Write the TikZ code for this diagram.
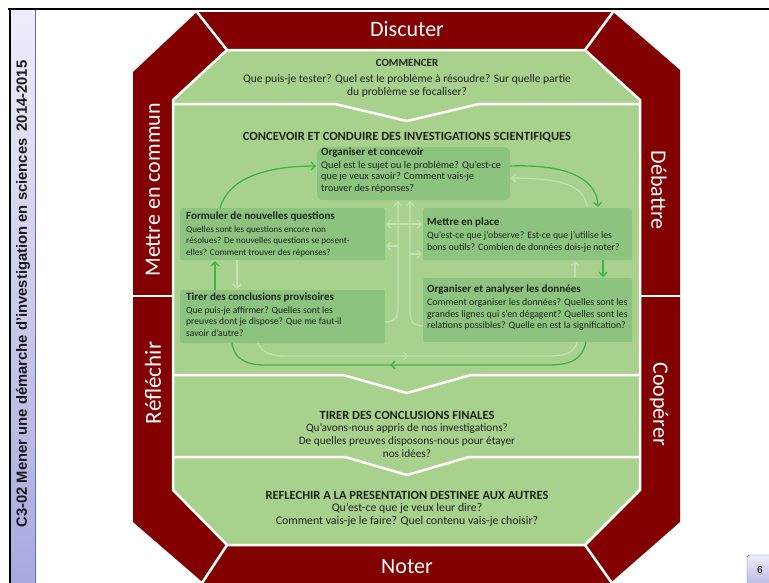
\documentclass[tikz,border=0pt]{standalone}
\usepackage{fontspec}
\setmainfont{Carlito}
\newfontfamily\arialf{Liberation Sans}
\usetikzlibrary{decorations.markings,arrows.meta,shadings}
\definecolor{bandred}{HTML}{820000}
\definecolor{lgreen}{HTML}{A9D18E}
\definecolor{bgreen}{HTML}{8CC37E}
\definecolor{agreen}{HTML}{3BB54A}
\definecolor{fgreen}{HTML}{C3E3AE}
\definecolor{txt}{HTML}{1A2617}
\definecolor{sidetop}{HTML}{EEEEFA}
\definecolor{sidebot}{HTML}{A8A8DE}
\definecolor{sideedge}{HTML}{6A6AB0}
\newcommand\bxttl{\fontsize{11}{12}\selectfont\bfseries}
\begin{document}
\begin{tikzpicture}[x=1pt,y=-1pt,
  box/.style={fill=bgreen, draw=none, inner sep=0, anchor=north west},
  bandlbl/.style={text=white, font=\fontsize{22}{22}\selectfont, inner sep=0},
  head/.style={font=\fontsize{12.5}{13}\selectfont\bfseries, text=txt, inner sep=0, anchor=base},
  body/.style={font=\fontsize{11.5}{13.5}\selectfont, text=txt, align=center, inner sep=0, anchor=north},
  btext/.style={text=txt, align=left, inner sep=0, anchor=north west},
  sepline/.style={draw=white, line width=2.5pt},
  barrow/.style={draw=agreen, line width=1.3pt, -{Straight Barb[length=4pt,width=8pt]}},
  farrow/.style={draw=fgreen, line width=1.3pt, -{Straight Barb[length=4pt,width=8pt]}},
  fdarrow/.style={draw=fgreen, line width=1.3pt, {Straight Barb[length=4pt,width=8pt]}-{Straight Barb[length=4pt,width=8pt]}},
  bmid/.style={draw=agreen, line width=1.3pt, postaction={decorate}, decoration={markings, mark=at position #1 with {\arrow[agreen]{Straight Barb[length=4pt,width=8pt]}}}},
  fmid/.style={draw=fgreen, line width=1.3pt, postaction={decorate}, decoration={markings, mark=at position #1 with {\arrow[fgreen]{Straight Barb[length=4pt,width=8pt]}}}},
]
\useasboundingbox (0,0) rectangle (769,582);
\fill[white] (0,0) rectangle (769,582);

% side bar and frame
\shade[top color=sidetop, bottom color=sidebot] (10,10) rectangle (35,585);
\draw[sideedge, line width=1pt] (35,10) -- (35,585);
\draw[black, line width=1.2pt] (10,10) -- (10,585);
\draw[black, line width=2.5pt] (8,9) -- (772,9);
\node[rotate=90, inner sep=0, text=black!90, font=\arialf\bfseries\fontsize{14.8}{15}\selectfont] (sidetitle) at (23,294) {C3-02 Mener une démarche d’investigation en sciences\hspace{7pt}2014-2015};

% page number box
\shade[top color=sidetop, bottom color=sidebot, rounded corners=3pt, draw=sideedge] (747,555) rectangle (780,595);
\node[inner sep=0, font=\arialf\fontsize{10}{10}\selectfont] (pnum) at (760,570) {6};

% octagon
\fill[bandred] (197,12) -- (613,12) -- (680,70) -- (680,522) -- (600,592) -- (214,592) -- (133,522) -- (133,72) -- cycle;
\filldraw[fill=lgreen, draw=white, line width=2.5pt] (227,50) -- (585,50) -- (640,100) -- (640,490) -- (585,545) -- (227,545) -- (173,490) -- (173,100) -- cycle;
\draw[sepline] (197,12) -- (227,50);
\draw[sepline] (613,12) -- (585,50);
\draw[sepline] (227,545) -- (200,586);
\draw[sepline] (585,545) -- (614,586);
\draw[sepline] (133,296) -- (173,296);
\draw[sepline] (640,296) -- (680,296);
\draw[sepline] (173,104) -- (335,104) -- (407,121) -- (479,104) -- (640,104);
\draw[sepline] (173,375) -- (343,375) -- (407,393) -- (471,375) -- (640,375);
\draw[sepline] (173,457) -- (345,457) -- (407,475) -- (469,457) -- (640,457);

% band labels
\node[bandlbl] (disc) at (407,29) {Discuter};
\node[bandlbl, rotate=90] (mec) at (153,190) {Mettre en commun};
\node[bandlbl, rotate=90, font=\fontsize{23}{23}\selectfont] (refl) at (153,383) {Réfléchir};
\node[bandlbl, rotate=-90] (deb) at (659,190) {Débattre};
\node[bandlbl, rotate=-90] (coop) at (659,404) {Coopérer};
\node[bandlbl] (note) at (407,567) {Noter};

% section texts
\node[head, font=\fontsize{11}{12}\selectfont\bfseries] (comh) at (407,66.5) {COMMENCER};
\node[body] (comb) at (407,74) {Que puis-je tester? Quel est le problème à résoudre? Sur quelle partie\\du problème se focaliser?};
\node[head] (conh) at (407,140.5) {CONCEVOIR ET CONDUIRE DES INVESTIGATIONS SCIENTIFIQUES};
\node[head] (tirh) at (407,419) {TIRER DES CONCLUSIONS FINALES};
\node[body, font=\fontsize{11.3}{13}\selectfont] (tirb) at (407,423.5) {Qu’avons-nous appris de nos investigations?\\De quelles preuves disposons-nous pour étayer\\nos idées?};
\node[head] (refh) at (407,499) {REFLECHIR A LA PRESENTATION DESTINEE AUX AUTRES};
\node[body, font=\fontsize{11.8}{12.5}\selectfont] (refb) at (407,503) {Qu’est-ce que je veux leur dire?\\Comment vais-je le faire? Quel contenu vais-je choisir?};

% boxes
\node[box, rounded corners=6pt, minimum width=193pt, minimum height=53pt] (org) at (317,147) {};
\node[box, rounded corners=2pt, minimum width=205pt, minimum height=52pt] (form) at (180,208) {};
\node[box, rounded corners=2pt, minimum width=205pt, minimum height=53pt] (tir) at (180,290) {};
\node[box, rounded corners=2pt, minimum width=209pt, minimum height=52pt] (mett) at (423,208) {};
\node[box, rounded corners=2pt, minimum width=209pt, minimum height=64pt] (anal) at (423,278) {};

\node[btext, font=\fontsize{10.3}{11.4}\selectfont] (orgt) at (321,148) {{\bxttl Organiser et concevoir}\\[1pt]Quel est le sujet ou le problème? Qu’est-ce\\que je veux savoir? Comment vais-je\\trouver des réponses?};
\node[btext, font=\fontsize{9.1}{11.6}\selectfont] (formt) at (186,212) {{\bxttl Formuler de nouvelles questions}\\[0.5pt]Quelles sont les questions encore non\\résolues? De nouvelles questions se posent-\\elles? Comment trouver des réponses?};
\node[btext, font=\fontsize{9.6}{11.6}\selectfont] (tirt) at (186,293) {{\bxttl Tirer des conclusions provisoires}\\[0.5pt]Que puis-je affirmer? Quelles sont les\\preuves dont je dispose? Que me faut-il\\savoir d’autre?};
\node[btext, font=\fontsize{9.8}{11.8}\selectfont] (mettt) at (427,218) {{\bxttl Mettre en place}\\[0.5pt]Qu’est-ce que j’observe? Est-ce que j’utilise les\\bons outils? Combien de données dois-je noter?};
\node[btext, font=\fontsize{9.9}{11.8}\selectfont] (analt) at (427,285) {{\bxttl Organiser et analyser les données}\\[0.5pt]Comment organiser les données? Quelles sont les\\grandes lignes qui s’en dégagent? Quelles sont les\\relations possibles? Quelle en est la signification?};

% connector end points
\coordinate (a1s) at (220,208);
\coordinate (a1e) at (316,166);
\coordinate (a2s) at (510,166);
\coordinate (a2e) at (598,207);
\coordinate (a3s) at (603,260);
\coordinate (a3e) at (603,277);
\coordinate (a4s) at (586,342);
\coordinate (a4e) at (232,343);
\coordinate (a5s) at (215,290);
\coordinate (a5e) at (215,261);
\coordinate (f1s) at (237,260);
\coordinate (f1e) at (237,289);
\coordinate (f2s) at (258,343);
\coordinate (f2e) at (577,342);
\coordinate (f3as) at (385,322);
\coordinate (f3ae) at (398,201);
\coordinate (f3bs) at (423,326);
\coordinate (f3be) at (410,201);
\coordinate (f4s) at (386,224);
\coordinate (f4e) at (422,224);
\coordinate (f5s) at (398,246);
\coordinate (f5e) at (386,246);
\coordinate (f6s) at (410,254);
\coordinate (f6e) at (422,254);
\coordinate (f7s) at (587,207);
\coordinate (f7e) at (511,178);
\coordinate (f8s) at (575,277);
\coordinate (f8e) at (575,261);

% faint connectors
\draw[farrow] (f1s) -- (f1e);
\draw[fmid=0.47] (f2s) .. controls (262,353) and (272,356) .. (285,356) -- (550,356) .. controls (566,356) and (575,352) .. (f2e);
\draw[farrow] (f3as) .. controls (396,322) and (398,316) .. (398,305) -- (f3ae);
\draw[farrow] (f3bs) .. controls (412,326) and (410,320) .. (410,310) -- (f3be);
\draw[fdarrow] (f4s) -- (f4e);
\draw[farrow] (f5s) -- (f5e);
\draw[farrow] (f6s) -- (f6e);
\draw[farrow] (f7s) .. controls (585,186) and (562,178) .. (f7e);
\draw[farrow] (f8s) -- (f8e);

% bright connectors
\draw[barrow] (a1s) .. controls (228,180) and (262,166) .. (a1e);
\draw[barrow] (a2s) .. controls (570,164) and (597,180) .. (a2e);
\draw[barrow] (a3s) -- (a3e);
\draw[bmid=0.55] (a4s) .. controls (582,360) and (570,365) .. (548,365) -- (265,365) .. controls (245,365) and (234,358) .. (a4e);
\draw[barrow] (a5s) -- (a5e);
\end{tikzpicture}
\end{document}
